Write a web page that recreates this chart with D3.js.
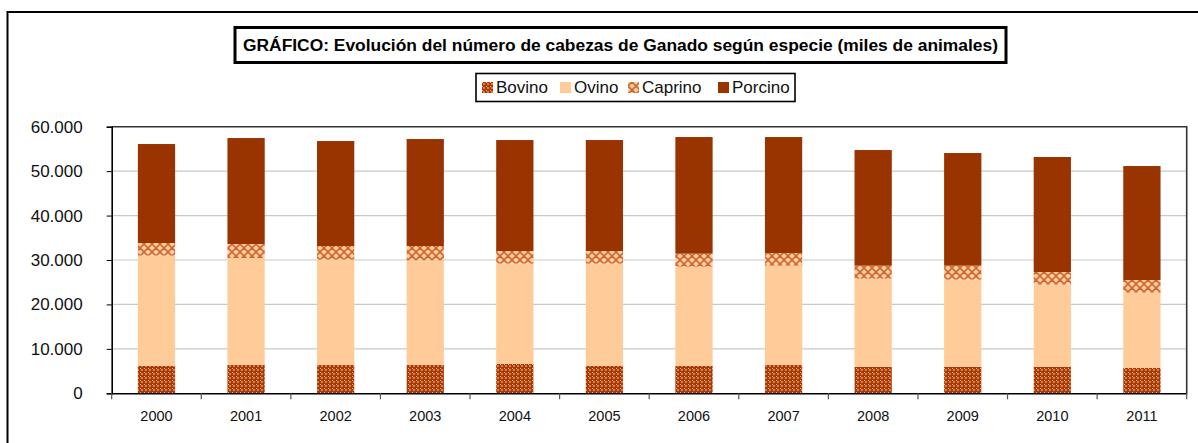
<!DOCTYPE html>
<meta charset="utf-8">
<script src="https://d3js.org/d3.v7.min.js"></script>
<style>
  body { margin: 0; background: #fff; }
  svg { display: block; font-family: Arial, "Liberation Sans", sans-serif; }
</style>
<body>
<svg id="chart" width="1198" height="443"></svg>
<script>
// data (miles de animales)
var years   = ["2000","2001","2002","2003","2004","2005","2006","2007","2008","2009","2010","2011"];
var bovino  = [6150, 6375, 6375, 6375, 6600, 6150, 6150, 6375, 5925, 5925, 5925, 5700];
var ovino   = [24825, 24075, 23700, 23550, 22575, 23025, 22350, 22350, 19875, 19650, 18525, 16950];
var caprino = [2850, 3150, 3075, 3225, 2850, 2850, 2925, 2850, 2925, 3150, 2850, 2850];
var porcino = [22275, 23850, 23625, 24075, 24975, 24975, 26250, 26100, 26025, 25350, 25875, 25650];
var yTicks  = [0, 10000, 20000, 30000, 40000, 50000, 60000];
var species = ["Bovino", "Ovino", "Caprino", "Porcino"];

var svg = d3.select("#chart");

// patterns for Bovino and Caprino
var defs = svg.append("defs");
var pb = defs.append("pattern").attr("id", "patBovino")
  .attr("patternUnits", "userSpaceOnUse").attr("width", 4).attr("height", 4);
pb.append("rect").attr("width", 4).attr("height", 4).attr("fill", "#a33c0c");
pb.append("rect").attr("x", 1).attr("y", 1).attr("width", 2).attr("height", 2).attr("fill", "#e07a40");
pb.append("rect").attr("x", 0).attr("y", 0).attr("width", 1).attr("height", 1).attr("fill", "#ffb070");

var pc = defs.append("pattern").attr("id", "patCaprino")
  .attr("patternUnits", "userSpaceOnUse").attr("width", 8).attr("height", 8);
pc.append("rect").attr("width", 8).attr("height", 8).attr("fill", "#ffcc99");
pc.append("path").attr("d", "M0,4 L4,0 M4,8 L8,4 M0,4 L4,8 M4,0 L8,4")
  .attr("stroke", "#cc6633").attr("stroke-width", 1.6).attr("fill", "none");

var fills = {
  Bovino: "url(#patBovino)",
  Ovino: "#ffcc99",
  Caprino: "url(#patCaprino)",
  Porcino: "#993300"
};

// outer frame (runs off the right and bottom edge)
svg.append("rect")
  .attr("x", 7.5).attr("y", 12).attr("width", 1300).attr("height", 600)
  .attr("fill", "none").attr("stroke", "#000").attr("stroke-width", 2);

// plot area
var x0 = 111.7, x1 = 1186.7, yTop = 126.7, yBot = 393.3;

var x = d3.scaleBand().domain(years).range([x0, x1])
  .paddingInner(0.584).paddingOuter(0.292);
var y = d3.scaleLinear().domain([0, 60000]).range([yBot, yTop]);

var loc = d3.formatLocale({decimal: ",", thousands: ".", grouping: [3], currency: ["", ""]});
var fmt = loc.format(",d");

// gridlines
svg.append("g").selectAll("line")
  .data(yTicks.filter(d => d > 0 && d < 60000))
  .join("line")
  .attr("x1", x0).attr("x2", x1)
  .attr("y1", d => y(d)).attr("y2", d => y(d))
  .attr("stroke", "#c8c8c8").attr("stroke-width", 1.2);

// stacked bars
var rows = years.map(function (yr, i) {
  return {year: yr, Bovino: bovino[i], Ovino: ovino[i], Caprino: caprino[i], Porcino: porcino[i]};
});
var stack = d3.stack().keys(species)(rows);

svg.append("g").selectAll("g")
  .data(stack)
  .join("g")
  .attr("fill", d => fills[d.key])
  .selectAll("rect")
  .data(d => d)
  .join("rect")
  .attr("x", d => x(d.data.year))
  .attr("width", x.bandwidth())
  .attr("y", d => y(d[1]))
  .attr("height", d => y(d[0]) - y(d[1]));

// plot border top/right
svg.append("path")
  .attr("d", "M" + x0 + "," + yTop + "H" + x1 + "V" + yBot)
  .attr("fill", "none").attr("stroke", "#333").attr("stroke-width", 1.6);

// y axis
var yAxis = svg.append("g")
  .attr("transform", "translate(" + x0 + ",0)")
  .call(d3.axisLeft(y).tickValues(yTicks).tickFormat(fmt).tickSize(5).tickPadding(24));
yAxis.select(".domain").attr("stroke", "#000").attr("stroke-width", 1.6);
yAxis.selectAll(".tick line").attr("stroke", "#000");
yAxis.selectAll("text").attr("font-size", "17px").attr("fill", "#111")
  .attr("font-family", "Arial, 'Liberation Sans', sans-serif");

// x axis: ticks on category boundaries
var xAxis = svg.append("g")
  .attr("transform", "translate(0," + yBot + ")")
  .call(d3.axisBottom(x).tickSize(0).tickPadding(17));
xAxis.select(".domain").attr("stroke", "#000").attr("stroke-width", 1.6);
xAxis.selectAll("text").attr("font-size", "14.5px").attr("fill", "#111")
  .attr("font-family", "Arial, 'Liberation Sans', sans-serif");
xAxis.selectAll(".bound")
  .data(d3.range(years.length + 1))
  .join("line")
  .attr("class", "bound")
  .attr("x1", i => x0 + i * x.step()).attr("x2", i => x0 + i * x.step())
  .attr("y1", 0).attr("y2", 6)
  .attr("stroke", "#555").attr("stroke-width", 1.2);

// title box
svg.append("rect")
  .attr("x", 235).attr("y", 27.5).attr("width", 771).attr("height", 35)
  .attr("fill", "#fff").attr("stroke", "#000").attr("stroke-width", 3);
svg.append("text")
  .attr("x", 620.5).attr("y", 51)
  .attr("text-anchor", "middle")
  .attr("font-size", "16px").attr("font-weight", "bold")
  .attr("textLength", 755).attr("lengthAdjust", "spacingAndGlyphs")
  .text("GRÁFICO: Evolución del número de cabezas de Ganado según especie (miles de animales)");

// legend
svg.append("rect")
  .attr("x", 476).attr("y", 73.5).attr("width", 319).attr("height", 28)
  .attr("fill", "#fff").attr("stroke", "#000").attr("stroke-width", 1.6);
var legX = [482, 560, 628, 718];
var leg = svg.append("g").selectAll("g")
  .data(species)
  .join("g")
  .attr("transform", (d, i) => "translate(" + legX[i] + ",82)");
leg.append("rect").attr("width", 11).attr("height", 11).attr("fill", d => fills[d]);
leg.append("text")
  .attr("x", 14).attr("y", 11)
  .attr("font-size", "17px").attr("fill", "#111")
  .text(d => d);
</script>
</body>
